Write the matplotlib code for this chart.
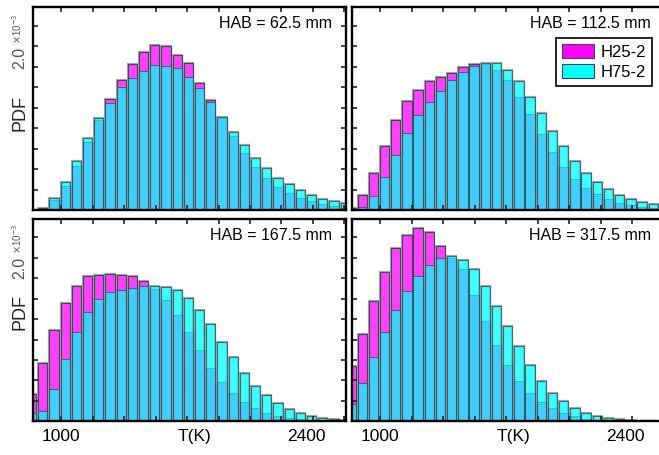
import matplotlib
matplotlib.use('Agg')

import matplotlib.pyplot as plt
import matplotlib.transforms as mtransforms
from matplotlib.patches import Patch
import numpy as np

plt.rcParams['font.family'] = ['Liberation Sans', 'DejaVu Sans']

# temperature bins (K), first bin is partly hidden behind the left spine
t_centers = 832 + 64 * np.arange(29)
bin_width = 53

hab_labels = ["HAB = 62.5 mm", "HAB = 112.5 mm", "HAB = 167.5 mm", "HAB = 317.5 mm"]
series_names = ["H25-2", "H75-2"]

# PDF values in units of 1e-3
h25_62 = [0.0, 0.03, 0.118, 0.289, 0.541, 0.825, 1.098, 1.354, 1.581, 1.780, 1.923, 2.012, 1.996, 1.894,
          1.793, 1.553, 1.341, 1.118, 0.898, 0.691, 0.520, 0.386, 0.276, 0.207, 0.142, 0.110, 0.069, 0.045, 0.020]
h75_62 = [0.0, 0.03, 0.150, 0.346, 0.593, 0.874, 1.118, 1.309, 1.496, 1.614, 1.691, 1.764, 1.752, 1.728,
          1.622, 1.492, 1.321, 1.138, 0.955, 0.789, 0.630, 0.508, 0.394, 0.313, 0.240, 0.179, 0.134, 0.106, 0.081]

h25_112 = [0.03, 0.179, 0.451, 0.785, 1.098, 1.325, 1.459, 1.573, 1.622, 1.671, 1.740, 1.776, 1.780, 1.711,
           1.581, 1.382, 1.167, 0.923, 0.707, 0.524, 0.374, 0.268, 0.195, 0.130, 0.089, 0.061, 0.037, 0.020, 0.010]
h75_112 = [0.0, 0.041, 0.175, 0.407, 0.675, 0.943, 1.154, 1.313, 1.447, 1.581, 1.679, 1.760, 1.793, 1.789,
           1.703, 1.573, 1.382, 1.179, 0.963, 0.780, 0.593, 0.455, 0.337, 0.252, 0.179, 0.134, 0.098, 0.069, 0.050]

h25_167 = [0.337, 0.710, 1.120, 1.445, 1.660, 1.782, 1.794, 1.806, 1.794, 1.774, 1.717, 1.623, 1.485, 1.303,
           1.088, 0.869, 0.657, 0.483, 0.341, 0.235, 0.158, 0.097, 0.061, 0.037, 0.024, 0.012, 0.005, 0.002, 0.0]
h75_167 = [0.10, 0.122, 0.390, 0.759, 1.096, 1.343, 1.498, 1.579, 1.607, 1.632, 1.656, 1.660, 1.648, 1.607,
           1.506, 1.364, 1.185, 0.974, 0.783, 0.593, 0.438, 0.317, 0.227, 0.154, 0.106, 0.069, 0.037, 0.024, 0.012]

h25_317 = [0.674, 1.067, 1.477, 1.826, 2.118, 2.285, 2.370, 2.321, 2.147, 2.000, 1.867, 1.550, 1.230, 0.937,
           0.694, 0.499, 0.341, 0.231, 0.158, 0.097, 0.065, 0.032, 0.020, 0.008, 0.004, 0.0, 0.0, 0.0, 0.0]
h75_317 = [0.215, 0.471, 0.791, 1.092, 1.360, 1.595, 1.778, 1.916, 1.997, 2.020, 1.972, 1.867, 1.660, 1.412,
           1.169, 0.917, 0.694, 0.499, 0.349, 0.244, 0.158, 0.097, 0.065, 0.037, 0.024, 0.012, 0.005, 0.0, 0.0]

W, H = 659, 455
fig = plt.figure(figsize=(W / 100, H / 100), dpi=100)

# axes boxes in pixels: left, top, right, bottom
boxes = [(32.7, 6.7, 345.7, 210.0), (352.0, 6.7, 665.0, 210.0),
         (32.7, 218.7, 345.7, 421.3), (352.0, 218.7, 665.0, 421.3)]
data = [(h25_62, h75_62), (h25_112, h75_112), (h25_167, h75_167), (h25_317, h75_317)]

magenta = "#ff40ff"
cyan = "#00ffff"
edge = "#3a4a55"

axes = []
for k, (box, (a, b)) in enumerate(zip(boxes, data)):
    l, t, r, bt = box
    ax = fig.add_axes([l / W, (H - bt) / H, (r - l) / W, (bt - t) / H])
    # soft grey outline round each column
    ax.bar(t_centers, np.maximum(a, b), bin_width, color='none', edgecolor='#a8a8a8', linewidth=1.6)
    ax.bar(t_centers, a, bin_width, color=magenta, edgecolor=edge, linewidth=0.8)
    ax.bar(t_centers, b, bin_width, color=cyan, alpha=0.75, edgecolor=edge, linewidth=0.8)
    ax.set_xlim(838, 2627)
    ax.set_ylim(0, 2.48)
    ax.set_xticks(np.arange(1000, 2700, 180))
    ax.set_yticks(np.arange(0, 2.5, 0.25))
    ax.set_xticklabels([])
    ax.set_yticklabels([])
    ax.tick_params(which='both', direction='in', top=True, right=True, length=3.5, width=1.2, color='#222222')
    for s in ax.spines.values():
        s.set_linewidth(1.7)
    ax.text(0.955, 0.916, hab_labels[k], transform=ax.transAxes, ha='right', va='center', fontsize=11.5)
    if k >= 2:
        trans = mtransforms.blended_transform_factory(ax.transData, ax.transAxes)
        for xv, txt in [(1000, "1000"), (1760, "T(K)"), (2400, "2400")]:
            ax.text(xv, -0.075, txt, transform=trans, ha='center', va='center', fontsize=12.5)
    axes.append(ax)

# y labels for the two rows
for pdf_y, num_y, exp_y in [(113, 57.5, 44), (312, 268, 254)]:
    fig.text(20 / W, 1 - pdf_y / H, "PDF", rotation=90, ha='center', va='center', fontsize=13, color='#222222')
    fig.text(20 / W, 1 - num_y / H, "2.0", rotation=90, ha='center', va='center', fontsize=11.5, color='#555555')
    fig.text(17.5 / W, 1 - exp_y / H, r"$\times$10$^{-3}$", rotation=90, ha='center', va='bottom',
             fontsize=7, color='#555555')

handles = [Patch(facecolor="#ff00ff", edgecolor=edge, linewidth=0.8),
           Patch(facecolor=cyan, edgecolor=edge, linewidth=0.8)]
leg = axes[1].legend(handles, series_names, loc='upper right', bbox_to_anchor=(0.958, 0.846),
                     fontsize=12, fancybox=False, framealpha=1, edgecolor='black',
                     handlelength=1.9, handleheight=0.95, handletextpad=0.4, borderpad=0.35,
                     labelspacing=0.25, borderaxespad=0)
leg.get_frame().set_linewidth(1.2)

fig.savefig("out.png", dpi=100)
